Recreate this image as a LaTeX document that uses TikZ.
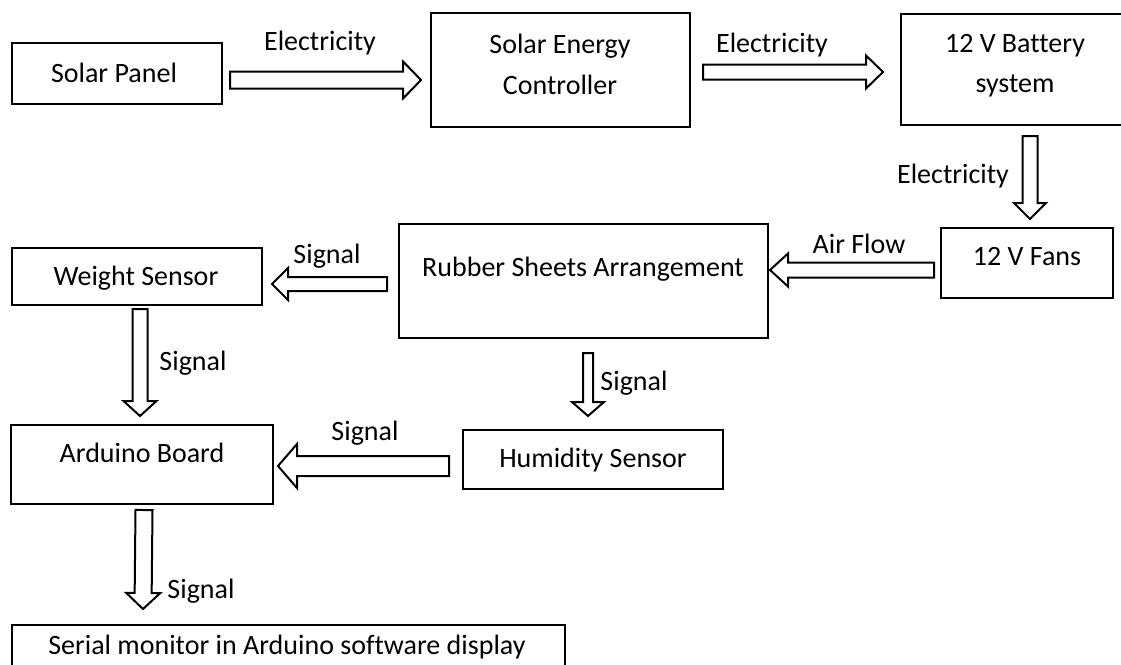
\documentclass[tikz,border=0pt]{standalone}
\usepackage{fontspec}
\setmainfont{Carlito}[Ligatures=NoCommon]
\usetikzlibrary{calc}
\tikzset{
  box/.style={draw=black, line width=2pt, rectangle, inner sep=0pt},
  txt/.style={font=\fontsize{28}{34}\selectfont, inner sep=0pt, anchor=base},
  arrline/.style={draw=black, line width=2pt, line join=miter, fill=white}
}
\newcommand\blockarr[5]{%
  \draw[arrline] let \p1=(#1), \p2=(#2),
    \n1={veclen(\x2-\x1,\y2-\y1)}, \n2={(\x2-\x1)/\n1}, \n3={(\y2-\y1)/\n1} in
    ({\x1-#3*\n3},{\y1+#3*\n2}) --
    ({\x2-#5*\n2-#3*\n3},{\y2-#5*\n3+#3*\n2}) --
    ({\x2-#5*\n2-#4*\n3},{\y2-#5*\n3+#4*\n2}) --
    (\p2) --
    ({\x2-#5*\n2+#4*\n3},{\y2-#5*\n3-#4*\n2}) --
    ({\x2-#5*\n2+#3*\n3},{\y2-#5*\n3-#3*\n2}) --
    ({\x1+#3*\n3},{\y1-#3*\n2}) -- cycle;}
\begin{document}
\begin{tikzpicture}[x=1pt, y=-1pt]
\useasboundingbox (0,0) rectangle (1121,664);
\fill[white] (0,0) rectangle (1121,664);
\clip (0,0) rectangle (1121,664);

% boxes
\node[box, minimum width=210, minimum height=61] (sp) at (117,73.5) {};
\node[box, minimum width=259, minimum height=114] (sec) at (560.5,70) {};
\node[box, minimum width=224, minimum height=111] (bat) at (1013,69.5) {};
\node[box, minimum width=172, minimum height=70] (fan) at (1027,263) {};
\node[box, minimum width=369, minimum height=114] (rsa) at (583.5,281) {};
\node[box, minimum width=250, minimum height=57] (ws) at (137,276.5) {};
\node[box, minimum width=260, minimum height=59] (hs) at (593,459.5) {};
\node[box, minimum width=262, minimum height=79] (ab) at (142,464.5) {};
\node[box, minimum width=553, minimum height=50] (sm) at (288.5,650) {};

% box texts
\node[txt] (spt) at (114,82) {Solar Panel};
\node[txt] (sect1) at (560,53) {Solar Energy};
\node[txt] (sect2) at (560,94) {Controller};
\node[txt] (batt1) at (1015,52) {12 V Battery};
\node[txt] (batt2) at (1015,92) {system};
\node[txt] (fant) at (1027,265) {12 V Fans};
\node[txt] (rsat) at (583,276) {Rubber Sheets Arrangement};
\node[txt] (wst) at (136,285) {Weight Sensor};
\node[txt] (abt) at (142,462) {Arduino Board};
\node[txt] (hst) at (593,467) {Humidity Sensor};
\node[txt] (smt) at (287,654) {Serial monitor in Arduino software display};

% arrow end points
\coordinate (a1s) at ($(sp.east)+(7,6.5)$);
\coordinate (a1e) at ($(sec.west)+(-9,10)$);
\coordinate (a2s) at ($(sec.east)+(12,2)$);
\coordinate (a2e) at ($(bat.west)+(-17,2.5)$);
\coordinate (a3s) at ($(bat.south)+(17,10)$);
\coordinate (a3e) at ($(fan.north)+(3,-8)$);
\coordinate (a4s) at ($(fan.west)+(-6,7)$);
\coordinate (a4e) at ($(rsa.east)+(1,-11)$);
\coordinate (a5s) at ($(rsa.west)+(-11,3)$);
\coordinate (a5e) at ($(ws.east)+(9,7.5)$);
\coordinate (a6s) at ($(rsa.south)+(4.5,14)$);
\coordinate (a6e) at ($(hs.north)+(-5,-13)$);
\coordinate (a7s) at ($(ws.south)+(3,3)$);
\coordinate (a7e) at ($(ab.north)+(-2,-8)$);
\coordinate (a8s) at ($(hs.west)+(-13,6.5)$);
\coordinate (a8e) at ($(ab.east)+(4,1.5)$);
\coordinate (a9s) at ($(ab.south)+(2,5)$);
\coordinate (a9e) at ($(sm.north west)+(132,-15)$);

% block arrows
\blockarr{a1s}{a1e}{8.5}{18.5}{18}
\blockarr{a2s}{a2e}{7.5}{16.5}{17}
\blockarr{a3s}{a3e}{7.5}{16}{16}
\blockarr{a4s}{a4e}{7.5}{16.5}{18}
\blockarr{a5s}{a5e}{7}{16}{16}
\blockarr{a6s}{a6e}{5}{16}{14}
\blockarr{a7s}{a7e}{7.5}{16.5}{15}
\blockarr{a8s}{a8e}{10}{22}{19}
\blockarr{a9s}{a9e}{8.5}{17}{16}

% arrow labels
\node[txt] (l1) at (320,50) {Electricity};
\node[txt] (l2) at (772,52) {Electricity};
\node[txt] (l3) at (953,183) {Electricity};
\node[txt] (l4) at (859,253) {Air Flow};
\node[txt] (l5) at (327,263) {Signal};
\node[txt] (l6) at (634,390) {Signal};
\node[txt] (l7) at (193,370) {Signal};
\node[txt] (l8) at (365,440) {Signal};
\node[txt] (l9) at (201,598) {Signal};
\end{tikzpicture}
\end{document}
